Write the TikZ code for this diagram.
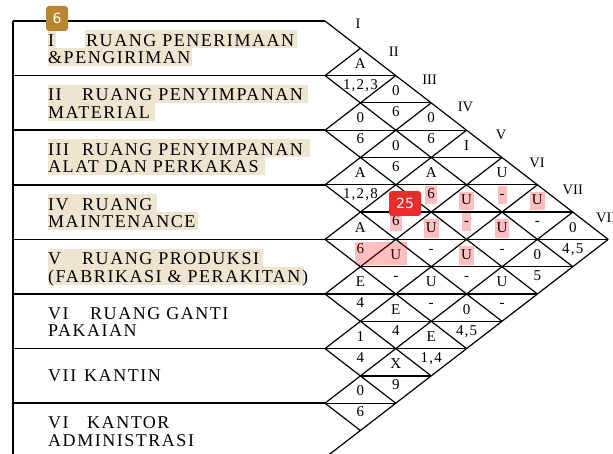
\documentclass[tikz,border=0pt]{standalone}
\usepackage{fontspec}
\setmainfont{Liberation Serif}
\newfontfamily\rowfam[LetterSpace=8.5]{Liberation Serif}
\newfontfamily\lblfam[LetterSpace=8]{Liberation Serif}
\newfontfamily\badgefam{DejaVu Sans}
\definecolor{beige}{RGB}{238,228,208}
\definecolor{badgegold}{RGB}{184,134,46}
\definecolor{badgered}{RGB}{232,44,44}
\newcommand\arcpair[6]{%
  \pgfmathsetmacro\cx{325+(#2-#1)*35.4}%
  \pgfmathsetmacro\cy{21+(#1+#2-1)*27.3}%
  \node[lbl,#5] (p#1#2t) at ({\cx},{\cy-11}) {#3};%
  \node[lbl,#6] (p#1#2b) at ({\cx},{\cy+10}) {#4};%
}
\begin{document}
\begin{tikzpicture}[x=1pt,y=-1pt,
  gridline/.style={line width=1.2pt},
  rowline/.style={line width=1.7pt},
  rt/.style={anchor=base west, inner sep=0pt, font=\rowfam\fontsize{18}{20}\selectfont},
  lbl/.style={font=\lblfam\fontsize{15}{18}\selectfont, inner sep=0.5pt, text height=10.5pt, text depth=3pt},
  hdr/.style={font=\fontsize{14.5}{17}\selectfont, inner sep=0pt},
  n/.style={},
  hl/.style={fill=red, fill opacity=0.25, text opacity=1, inner xsep=2pt, inner ysep=2.5pt},
  badge/.style={rounded corners=3pt, font=\badgefam\fontsize{14}{16}\selectfont, text=white, inner sep=0pt, align=center}
]
\useasboundingbox (0,0) rectangle (613,454);
\clip (0,0) rectangle (613,454);
\fill[white] (0,0) rectangle (613,454);

% beige highlights
\fill[beige] (48,30.3) rectangle (56,48.3);
\fill[beige] (85,30.3) rectangle (297,48.3);
\fill[beige] (48,48.3) rectangle (192,66.3);
\fill[beige] (48,84.9) rectangle (308,102.9);
\fill[beige] (48,102.9) rectangle (155,120.9);
\fill[beige] (48,139.5) rectangle (310,157.5);
\fill[beige] (48,157.5) rectangle (265,175.5);
\fill[beige] (48,194.1) rectangle (157,212.1);
\fill[beige] (48,212.1) rectangle (198,230.1);
\fill[beige] (48,248.7) rectangle (263,266.7);
\fill[beige] (48,266.7) rectangle (304,284.7);

% row texts
\node[rt] (n1) at (48,46.3) {I};
\node[rt] (t1a) at (86,46.3) {RUANG PENERIMAAN};
\node[rt] (t1b) at (48,63.8) {\&PENGIRIMAN};
\node[rt] (n2) at (48,100.9) {II};
\node[rt] (t2a) at (82,100.9) {RUANG PENYIMPANAN};
\node[rt] (t2b) at (48,118.4) {MATERIAL};
\node[rt] (n3) at (48,155.5) {III};
\node[rt] (t3a) at (82,155.5) {RUANG PENYIMPANAN};
\node[rt] (t3b) at (48,173.0) {ALAT DAN PERKAKAS};
\node[rt] (n4) at (48,210.1) {IV};
\node[rt] (t4a) at (82,210.1) {RUANG};
\node[rt] (t4b) at (48,227.6) {MAINTENANCE};
\node[rt] (n5) at (48,264.7) {V};
\node[rt] (t5a) at (82,264.7) {RUANG PRODUKSI};
\node[rt] (t5b) at (48,282.2) {(FABRIKASI \& PERAKITAN)};
\node[rt] (n6) at (48,319.3) {VI};
\node[rt] (t6a) at (90,319.3) {RUANG GANTI};
\node[rt] (t6b) at (48,336.8) {PAKAIAN};
\node[rt] (n7) at (48,381.9) {VII};
\node[rt] (t7a) at (84,381.9) {KANTIN};
\node[rt] (n8) at (48,428.5) {VI};
\node[rt] (t8a) at (87,428.5) {KANTOR};
\node[rt] (t8b) at (48,446.0) {ADMINISTRASI};

% table lines
\draw[rowline] (13,21) -- (13,470);
\foreach \k in {0,...,8} \draw[rowline] (13,{21+2*\k*27.3}) -- (325,{21+2*\k*27.3});
% horizontal lines inside the triangle
\foreach \m in {1,...,15}{
  \pgfmathsetmacro\yy{21+\m*27.3}
  \pgfmathsetmacro\xl{325+mod(\m,2)*35.4}
  \pgfmathsetmacro\xr{325+min(\m,16-\m)*35.4}
  \draw[gridline] ({\xl},{\yy}) -- ({\xr},{\yy});
}
% diagonals
\foreach \k in {0,...,7} \draw[gridline] (325,{21+2*\k*27.3}) -- ({325+(8-\k)*35.4},{21+(\k+8)*27.3});
\foreach \k in {1,...,8} \draw[gridline] (325,{21+2*\k*27.3}) -- ({325+\k*35.4},{21+\k*27.3});

% column headers
\foreach \k/\r in {1/I,2/II,3/III,4/IV,5/V,6/VI,7/VII}
  \node[hdr] (h\k) at ({358+35.8*(\k-1)},{24+27.7*(\k-1)}) {\r};
\node[hdr, anchor=west] (h8) at (596,218) {VIII};

% relationship labels
\arcpair{1}{2}{A}{1,2,3}{n}{n}
\arcpair{1}{3}{0}{6}{n}{n}
\arcpair{1}{4}{0}{6}{n}{n}
\arcpair{1}{5}{I}{}{n}{n}
\arcpair{1}{6}{U}{-}{n}{hl}
\arcpair{1}{7}{U}{-}{hl}{n}
\arcpair{1}{8}{0}{4,5}{n}{n}
\arcpair{2}{3}{0}{6}{n}{n}
\arcpair{2}{4}{0}{6}{n}{n}
\arcpair{2}{5}{A}{6}{n}{hl}
\arcpair{2}{6}{U}{-}{hl}{hl}
\arcpair{2}{7}{U}{-}{hl}{n}
\arcpair{2}{8}{0}{5}{n}{n}
\arcpair{3}{4}{A}{1,2,8}{n}{n}
\arcpair{3}{5}{}{6}{n}{hl}
\arcpair{3}{6}{U}{-}{hl}{n}
\arcpair{3}{7}{U}{-}{hl}{n}
\arcpair{3}{8}{U}{-}{n}{n}
\arcpair{4}{5}{A}{6}{n}{n}
\arcpair{4}{6}{U}{-}{n}{n}
\arcpair{4}{7}{U}{-}{n}{n}
\arcpair{4}{8}{0}{4,5}{n}{n}
\arcpair{5}{6}{E}{4}{n}{n}
\arcpair{5}{7}{E}{4}{n}{n}
\arcpair{5}{8}{E}{1,4}{n}{n}
\arcpair{6}{7}{1}{4}{n}{n}
\arcpair{6}{8}{X}{9}{n}{n}
\arcpair{7}{8}{0}{6}{n}{n}

% combined highlight
\fill[red, opacity=0.25] (355,242) rectangle (407,265);

% badges
\node[badge, fill=badgegold, minimum width=22pt, minimum height=25pt] (b6) at (57,18.5) {6};
\node[badge, fill=badgered, minimum width=32pt, minimum height=25pt] (b25) at (405,203.5) {25};
\end{tikzpicture}
\end{document}
